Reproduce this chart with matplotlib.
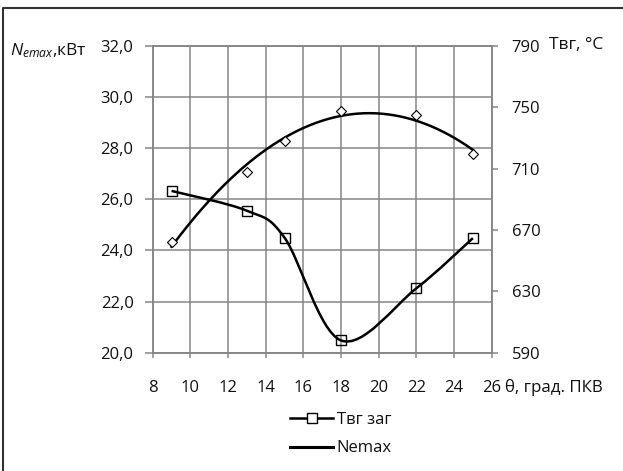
import numpy as np
import matplotlib
matplotlib.use("Agg")
import matplotlib.pyplot as plt
from matplotlib.path import Path
from matplotlib.patches import PathPatch
from matplotlib.lines import Line2D

plt.rcParams['font.family'] = ['Open Sans', 'DejaVu Sans']
plt.rcParams['mathtext.fontset'] = 'custom'
plt.rcParams['mathtext.it'] = 'Open Sans:italic'
plt.rcParams['mathtext.rm'] = 'Open Sans'

# ignition advance angle, deg
theta = [9, 13, 15, 18, 22, 25]
# max effective power, kW (left axis)
n_emax = [24.32, 27.06, 28.3, 29.47, 29.3, 27.76]
# exhaust gas temperature, degC (right axis)
t_exh = [695.5, 682.6, 665.0, 598.0, 632.0, 664.7]

left_ticks = [20, 22, 24, 26, 28, 30, 32]
right_ticks = [590, 630, 670, 710, 750, 790]
x_ticks = [8, 10, 12, 14, 16, 18, 20, 22, 24, 26]

GRID = '#868686'
TXT = '#111111'
FS = 12
W, H = 623, 471


def smooth_path(xs, ys):
    # smoothed line through the points (cubic bezier, catmull-rom style)
    pts = np.column_stack([xs, ys]).astype(float)
    n = len(pts)
    verts = [pts[0]]
    codes = [Path.MOVETO]
    for i in range(n - 1):
        p0 = pts[max(i - 1, 0)]
        p1 = pts[i]
        p2 = pts[i + 1]
        p3 = pts[min(i + 2, n - 1)]
        verts += [p1 + (p2 - p0) / 6, p2 - (p3 - p1) / 6, p2]
        codes += [Path.CURVE4] * 3
    return Path(verts, codes)


fig = plt.figure(figsize=(W / 100, H / 100), dpi=100)
ax = fig.add_axes([152.7 / W, 1 - 352.7 / H, (491.7 - 152.7) / W, (352.7 - 46) / H])
ax2 = ax.twinx()

ax.set_xlim(8, 26)
ax.set_ylim(20, 32)
ax2.set_ylim(590, 790)
ax.set_xticks(x_ticks)
ax.set_yticks(left_ticks)
ax2.set_yticks(right_ticks)
ax.set_yticklabels([f"{v:.1f}".replace('.', ',') for v in left_ticks])
ax2.set_yticklabels([str(v) for v in right_ticks])

ax.grid(True, color=GRID, lw=1.1)
ax.set_axisbelow(True)
for a in (ax, ax2):
    for s in a.spines.values():
        s.set_color(GRID)
        s.set_linewidth(1.1)
ax.tick_params(axis='x', direction='out', length=3.6, width=1.1, color=GRID,
               pad=16, labelsize=FS, labelcolor=TXT)
ax.tick_params(axis='y', direction='out', length=5.8, width=1.1, color=GRID,
               pad=8, labelsize=FS, labelcolor=TXT)
ax2.tick_params(axis='y', direction='out', length=4.3, width=1.1, color=GRID,
                pad=10, labelsize=FS, labelcolor=TXT)

# Nemax: points and quadratic trend
coef = np.polyfit(theta, n_emax, 2)
xt = np.linspace(theta[0], theta[-1], 200)
ax.plot(xt, np.polyval(coef, xt), color='black', lw=1.8)
ax.plot(theta, n_emax, 'D', ms=5.5, mfc='white', mec='black', mew=0.8)

# exhaust temperature: smoothed line with square markers
ax2.add_patch(PathPatch(smooth_path(theta, t_exh), fill=False, ec='black', lw=1.8))
ax2.plot(theta, t_exh, 's', ms=7.8, mfc='none', mec='black', mew=1.0)

# axis captions
fig.text(10 / W, 1 - 51 / H, r'$N_{emax}$,кВт', fontsize=12.5, color=TXT,
         ha='left', va='center')
fig.text(549 / W, 1 - 45 / H, 'Твг, °С', fontsize=12.5, color=TXT,
         ha='left', va='center')
fig.text(505 / W, 1 - 387 / H, 'θ, град. ПКВ', fontsize=12.2, color=TXT,
         ha='left', va='center')

handles = [Line2D([], [], color='black', lw=1.8, marker='s', ms=7, mfc='white',
                  mec='black', mew=1.0),
           Line2D([], [], color='black', lw=2.2)]
fig.legend(handles, ['Твг заг', 'Nemax'], loc='upper left',
           bbox_to_anchor=(290 / W, 1 - 412 / H), frameon=False, fontsize=FS,
           handlelength=2.6, handletextpad=0.2, labelspacing=0.75,
           borderpad=0, borderaxespad=0, labelcolor=TXT)

# chart border
fig.add_artist(Line2D([3 / W, 3 / W, 1], [0, 1 - 8 / H, 1 - 8 / H],
                      transform=fig.transFigure, color='#333333', lw=1.5))

fig.savefig('out.png', dpi=100)
